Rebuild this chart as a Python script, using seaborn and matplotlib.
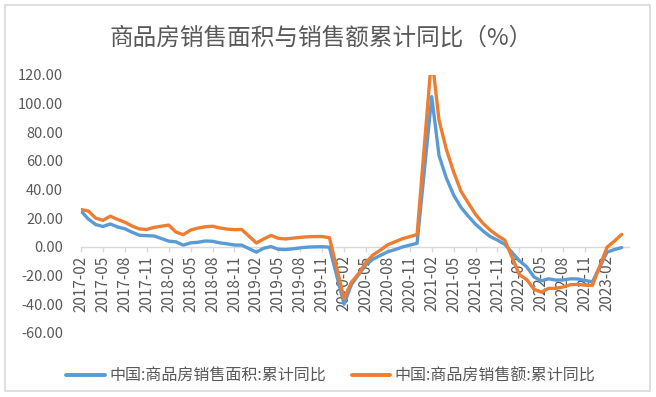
import matplotlib
matplotlib.use("Agg")
import matplotlib.pyplot as plt
from matplotlib.lines import Line2D
from matplotlib.patches import Rectangle
import numpy as np
import pandas as pd
import seaborn as sns

# ---------------- data ----------------
title = "商品房销售面积与销售额累计同比（%）"
series_names = ["中国:商品房销售面积:累计同比", "中国:商品房销售额:累计同比"]
colors = ["#5B9BD5", "#ED7D31"]

# monthly cumulative data (January is not published: Jan-Feb combined)
months = [f"{y}-{m:02d}" for y in range(2017, 2023) for m in range(2, 13)] + ["2023-02", "2023-03", "2023-04"]

area_yoy = [
    25.1, 19.5, 15.7, 14.3, 16.1, 14.0, 12.7, 10.3, 8.2, 7.9, 7.7,          # 2017
    4.1, 3.6, 1.3, 2.9, 3.3, 4.2, 4.0, 2.9, 2.2, 1.4, 1.3,                  # 2018
    -3.6, -0.9, 0.3, -1.6, -1.8, -1.3, -0.6, -0.1, 0.1, 0.2, -0.1,          # 2019
    -39.9, -26.3, -19.3, -12.3, -8.4, -5.8, -3.3, -1.8, 0.0, 1.3, 2.6,      # 2020
    104.9, 63.8, 48.1, 36.3, 27.7, 21.5, 15.9, 11.3, 7.3, 4.8, 1.9,         # 2021
    -9.6, -13.8, -20.9, -23.6, -22.2, -23.1, -23.0, -22.2, -22.3, -23.3, -24.3,  # 2022
    -3.6, -1.8, -0.4,                                                       # 2023
]
value_yoy = [
    26.1, 25.1, 20.2, 18.6, 21.5, 19.3, 17.3, 14.6, 12.6, 12.2, 13.7,       # 2017
    15.3, 10.4, 8.6, 11.8, 13.2, 14.1, 14.5, 13.3, 12.5, 12.1, 12.2,        # 2018
    2.8, 5.6, 8.1, 6.1, 5.6, 6.2, 6.7, 7.1, 7.3, 7.3, 6.5,                  # 2019
    -35.9, -24.7, -18.6, -10.6, -5.4, -2.1, 1.6, 3.7, 5.8, 7.2, 8.7,        # 2020
    133.4, 88.5, 68.1, 52.4, 38.9, 30.7, 22.8, 16.6, 11.8, 8.0, 4.8,        # 2021
    -19.3, -22.7, -29.5, -31.5, -28.9, -28.8, -27.9, -26.3, -26.1, -26.6, -26.7,  # 2022
    -0.1, 4.1, 8.8,                                                         # 2023
]

tick_labels = [f"{y}-{m:02d}" for y in range(2017, 2024) for m in (2, 5, 8, 11)][:25]
y_ticks = [-60, -40, -20, 0, 20, 40, 60, 80, 100, 120]

# ---------------- style ----------------
sns.set_theme(style="white")
plt.rcParams["font.family"] = ["Noto Sans CJK SC", "DejaVu Sans"]
TXT = "#595959"
AXC = "#D9D9D9"


def month_pos(s):
    return int(s[:4]) * 12 + int(s[5:7])


x0 = month_pos(months[0])
xpos = [month_pos(m) - x0 for m in months]
tick_pos = [month_pos(t) - x0 for t in tick_labels]

df = pd.DataFrame({
    "x": xpos * 2,
    "y": area_yoy + value_yoy,
    "series": [series_names[0]] * len(xpos) + [series_names[1]] * len(xpos),
})

W, H = 656, 397
fig = plt.figure(figsize=(W / 100, H / 100), dpi=100)
fig.patch.set_facecolor("white")
ax = fig.add_axes([81 / W, 1 - 333 / H, (629 - 81) / W, (333 - 75) / H])

sns.lineplot(data=df, x="x", y="y", hue="series", palette=colors,
             linewidth=2.4, ax=ax, legend=False, sort=True)

ax.set_xlim(0, month_pos("2023-05") - x0)
ax.set_ylim(-60, 120)
ax.set_xlabel("")
ax.set_ylabel("")

for s in ["top", "right", "left"]:
    ax.spines[s].set_visible(False)
ax.spines["bottom"].set_position(("data", 0))
ax.spines["bottom"].set_color(AXC)
ax.spines["bottom"].set_linewidth(1.0)
ax.spines["bottom"].set_zorder(0.5)

ax.set_xticks(tick_pos)
ax.set_xticklabels(tick_labels, rotation=90, fontsize=11, color=TXT)
ax.tick_params(axis="x", direction="out", length=3.6, width=1.0, color=AXC, pad=2.5, bottom=True)
ax.set_yticks(y_ticks)
ax.set_yticklabels([f"{v:.2f}" for v in y_ticks], fontsize=10.5, color=TXT)
ax.tick_params(axis="y", length=0, pad=13)
ax.grid(False)
ax.set_facecolor("none")

# title
fig.text(321 / W, 1 - 38 / H, title, ha="center", va="center", fontsize=17, color=TXT)

# legend
handles = [Line2D([0], [0], color=c, lw=2.8) for c in colors]
fig.legend(handles, series_names, loc="center", bbox_to_anchor=(331 / W, 1 - 376 / H),
           ncol=2, frameon=False, fontsize=11.5, labelcolor=TXT,
           handlelength=2.4, handletextpad=0.3, columnspacing=1.6)

# outer border
fig.patches.append(Rectangle((5 / W, 1 - 391 / H), 645 / W, 386 / H,
                             transform=fig.transFigure, fill=False,
                             edgecolor=AXC, linewidth=1.2))

fig.savefig("out.png", dpi=100)
